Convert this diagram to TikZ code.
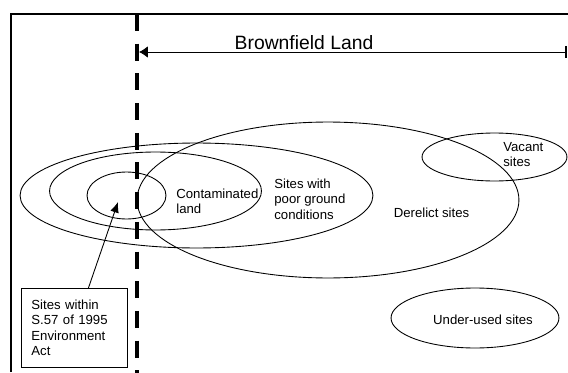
\documentclass[tikz,border=0pt]{standalone}
\usepackage{fontspec}
\setmainfont{Liberation Sans}
\usetikzlibrary{shapes.geometric,arrows.meta,positioning}

\begin{document}
\begin{tikzpicture}[x=0.02cm,y=-0.02cm,
    set/.style 2 args={draw,ellipse,inner sep=0pt,line width=0.5pt,
        minimum width=#1*0.04cm,minimum height=#2*0.04cm},
    lbl/.style={align=left,inner sep=0pt,font=\fontsize{7.5}{8.8}\selectfont}]
    \useasboundingbox (0,0) rectangle (568,372);
    \draw[line width=0.6pt] (11,372) -- (11,14) -- (568,14);

    \coordinate (divtop) at (137,14);
    \coordinate (divbot) at (137,380);
    \draw[line width=2.3pt,dash pattern=on 0.34cm off 0.254cm] (divtop) -- (divbot);

    \coordinate (bfleft) at (139,52);
    \coordinate (bfright) at (567,52);
    \draw[line width=0.5pt,{Latex[length=5pt,width=6.5pt]}-{Bar[width=7pt,line width=1.2pt]}] (bfleft) -- (bfright);
    \node[font=\fontsize{11}{13}\selectfont] (bftxt) at (304,43) {Brownfield Land};

    \node[set={39.5}{23.5}] (s57) at (126.5,195.5) {};
    \node[set={106}{39}] (contam) at (155.5,191) {};
    \node[set={176.5}{52.5}] (poor) at (196.5,195.5) {};
    \node[set={191}{78}] (derelict) at (328,200) {};
    \node[set={72.5}{24}] (vacant) at (494.5,157) {};
    \node[set={84}{30}] (underused) at (475,318) {};

    \node[lbl,anchor=west] (contamtxt) at (176,201.5) {Contaminated\\land};
    \node[lbl,anchor=west] (poortxt) at (274,199) {Sites with\\poor ground\\conditions};
    \node[lbl] (dereltxt) at (431.5,213) {Derelict sites};
    \node[lbl,anchor=west] (vacanttxt) at (503,154.5) {Vacant\\sites};
    \node[lbl] (usedtxt) at (483,320) {Under-used sites};

    \node[draw,lbl,line width=0.5pt,anchor=north west,inner xsep=0.2cm,
        text width=1.72cm,minimum height=1.58cm] (actbox) at (21,288)
        {Sites within\\S.57 of 1995\\Environment\\Act};
    \coordinate (s57tip) at (118,202);
    \draw[line width=0.5pt,-{Latex[length=6pt,width=5pt]}] ([xshift=0.28cm]actbox.north) -- (s57tip);
\end{tikzpicture}
\end{document}
